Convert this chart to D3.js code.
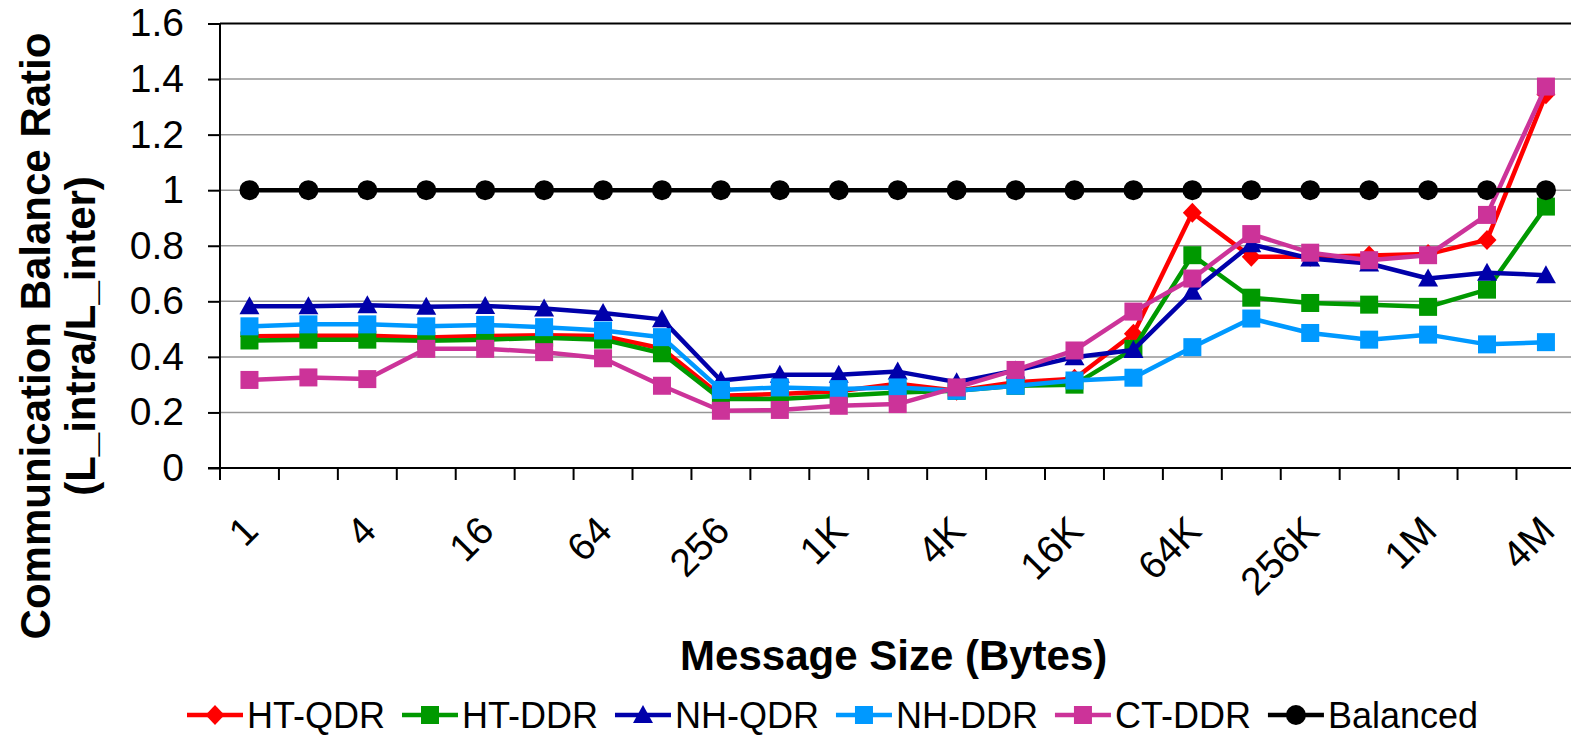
<!DOCTYPE html>
<html lang="en">
    <head>
        <meta charset="utf-8">
        <title>Communication Balance Ratio</title>
        <script src="https://cdn.jsdelivr.net/npm/d3@7/dist/d3.min.js"></script>
    </head>

    <body style="margin: 0px; background: white">
        <script type="text/javascript">

            // message sizes, 1 byte .. 4M
            var sizes = ["1","2","4","8","16","32","64","128","256","512","1K","2K","4K","8K",
                         "16K","32K","64K","128K","256K","512K","1M","2M","4M"];

            var htQdr = [0.474,0.476,0.476,0.470,0.475,0.478,0.475,0.430,0.260,0.266,0.276,0.303,0.278,
                         0.309,0.321,0.483,0.919,0.760,0.760,0.765,0.770,0.821,1.345];
            var htDdr = [0.459,0.462,0.462,0.458,0.462,0.469,0.462,0.413,0.248,0.248,0.260,0.272,0.278,
                         0.296,0.300,0.429,0.766,0.613,0.594,0.588,0.580,0.642,0.941];
            var nhQdr = [0.582,0.582,0.586,0.580,0.583,0.574,0.558,0.535,0.315,0.336,0.336,0.347,0.309,
                         0.351,0.399,0.425,0.634,0.805,0.754,0.736,0.682,0.703,0.694];
            var nhDdr = [0.510,0.517,0.517,0.510,0.515,0.507,0.495,0.471,0.281,0.290,0.284,0.290,0.278,
                         0.296,0.315,0.325,0.435,0.538,0.486,0.462,0.480,0.445,0.453];
            var ctDdr = [0.317,0.326,0.320,0.429,0.429,0.417,0.395,0.296,0.206,0.209,0.224,0.230,0.290,
                         0.353,0.423,0.563,0.682,0.842,0.775,0.748,0.766,0.911,1.373];
            var balanced = [1,1,1,1,1,1,1,1,1,1,1,1,1,1,1,1,1,1,1,1,1,1,1];

            var yTicks = [0, 0.2, 0.4, 0.6, 0.8, 1, 1.2, 1.4, 1.6];
            var xLabelEvery = 2;

            var seriesNames = ["HT-QDR", "HT-DDR", "NH-QDR", "NH-DDR", "CT-DDR", "Balanced"];
            var seriesColours = ["#ff0000", "#009900", "#0000aa", "#0099ff", "#cc3399", "#000000"];
            var seriesMarkers = ["diamond", "square", "triangle", "square", "square", "circle"];
            var seriesValues = [htQdr, htDdr, nhQdr, nhDdr, ctDdr, balanced];

            var width = 1571;
            var height = 736;
            var font = "'Liberation Sans', Arial, sans-serif";

            // plot area (window.top is taken, so no "top" here)
            var plotLeft = 220, plotRight = 1575.4, plotTop = 23.5, plotBottom = 468;

            var svg = d3.select("body")
                .append("svg")
                .attr("width", width)
                .attr("height", height)
                .style("display", "block");

            var x = d3.scaleBand().domain(sizes).range([plotLeft, plotRight]).padding(0);
            var y = d3.scaleLinear().domain([0, 1.6]).range([plotBottom, plotTop]);
            var bw = x.bandwidth();

            // gridlines
            svg.append("g")
                .selectAll("line")
                .data(yTicks.slice(1, -1))
                .enter().append("line")
                .attr("x1", plotLeft).attr("x2", width)
                .attr("y1", function(d){ return y(d); })
                .attr("y2", function(d){ return y(d); })
                .attr("stroke", "#969696")
                .attr("stroke-width", 1.5);

            // top border of plot area
            svg.append("line")
                .attr("x1", plotLeft).attr("x2", width)
                .attr("y1", y(1.6)).attr("y2", y(1.6))
                .attr("stroke", "black").attr("stroke-width", 2);

            // y axis
            var yAxis = svg.append("g")
                .attr("transform", "translate(" + plotLeft + ",0)")
                .call(d3.axisLeft(y).tickValues(yTicks).tickSize(12).tickPadding(24)
                      .tickFormat(d3.format("~g")));
            yAxis.select(".domain").remove();
            yAxis.selectAll(".tick line").attr("stroke", "black").attr("stroke-width", 2);
            yAxis.selectAll("text")
                .attr("font-family", font)
                .style("font-size", "39px")
                .attr("fill", "black");
            svg.append("line")
                .attr("x1", plotLeft).attr("x2", plotLeft)
                .attr("y1", plotTop).attr("y2", plotBottom + 12)
                .attr("stroke", "black").attr("stroke-width", 2);

            // x axis, ticks sit between categories
            svg.append("line")
                .attr("x1", plotLeft - 12).attr("x2", width)
                .attr("y1", plotBottom).attr("y2", plotBottom)
                .attr("stroke", "black").attr("stroke-width", 2);
            svg.append("g")
                .selectAll("line")
                .data(sizes)
                .enter().append("line")
                .attr("x1", function(d){ return x(d); })
                .attr("x2", function(d){ return x(d); })
                .attr("y1", plotBottom).attr("y2", plotBottom + 12)
                .attr("stroke", "black").attr("stroke-width", 2);

            svg.append("g")
                .selectAll("text")
                .data(sizes.filter(function(d, i){ return i % xLabelEvery == 0; }))
                .enter().append("text")
                .attr("transform", function(d){
                    return "translate(" + (x(d) + bw / 2 + 11) + "," + 533 + ") rotate(-45)";
                })
                .attr("text-anchor", "end")
                .attr("font-family", font)
                .style("font-size", "39px")
                .attr("fill", "black")
                .text(function(d){ return d; });

            // axis titles
            svg.append("text")
                .attr("x", (plotLeft + plotRight) / 2 - 4)
                .attr("y", 670)
                .attr("text-anchor", "middle")
                .attr("font-family", font)
                .attr("font-weight", "bold")
                .style("font-size", "42px")
                .text("Message Size (Bytes)");

            svg.append("text")
                .attr("transform", "translate(50,336) rotate(-90)")
                .attr("text-anchor", "middle")
                .attr("font-family", font)
                .attr("font-weight", "bold")
                .style("font-size", "42px")
                .text("Communication Balance Ratio");
            svg.append("text")
                .attr("transform", "translate(95,336) rotate(-90)")
                .attr("text-anchor", "middle")
                .attr("font-family", font)
                .attr("font-weight", "bold")
                .style("font-size", "42px")
                .text("(L_intra/L_inter)");

            function addMarker(g, type, cx, cy, colour){
                if(type == "square"){
                    g.append("rect")
                        .attr("x", cx - 9).attr("y", cy - 9)
                        .attr("width", 18).attr("height", 18)
                        .attr("fill", colour);
                }
                else if(type == "diamond"){
                    g.append("path")
                        .attr("d", "M" + cx + "," + (cy - 10) + "L" + (cx + 9.5) + "," + cy +
                                   "L" + cx + "," + (cy + 10) + "L" + (cx - 9.5) + "," + cy + "Z")
                        .attr("fill", colour);
                }
                else if(type == "triangle"){
                    g.append("path")
                        .attr("d", "M" + cx + "," + (cy - 10) + "L" + (cx + 10) + "," + (cy + 8) +
                                   "L" + (cx - 10) + "," + (cy + 8) + "Z")
                        .attr("fill", colour);
                }
                else{
                    g.append("circle")
                        .attr("cx", cx).attr("cy", cy).attr("r", 10)
                        .attr("fill", colour);
                }
            }

            // series
            var line = d3.line()
                .x(function(d, i){ return x(sizes[i]) + bw / 2; })
                .y(function(d){ return y(d); });

            seriesValues.forEach(function(vals, s){
                var g = svg.append("g");
                g.append("path")
                    .attr("d", line(vals))
                    .attr("fill", "none")
                    .attr("stroke", seriesColours[s])
                    .attr("stroke-width", 4.5)
                    .attr("stroke-linejoin", "round");
                vals.forEach(function(v, i){
                    addMarker(g, seriesMarkers[s], x(sizes[i]) + bw / 2, y(v), seriesColours[s]);
                });
            });

            // legend
            var legend = svg.append("g");
            var lx = 187, ly = 715;
            seriesNames.forEach(function(name, s){
                legend.append("line")
                    .attr("x1", lx).attr("x2", lx + 56)
                    .attr("y1", ly).attr("y2", ly)
                    .attr("stroke", seriesColours[s])
                    .attr("stroke-width", 4.5);
                addMarker(legend, seriesMarkers[s], lx + 28, ly, seriesColours[s]);
                var t = legend.append("text")
                    .attr("x", lx + 60)
                    .attr("y", ly + 13)
                    .attr("font-family", font)
                    .style("font-size", "36px")
                    .attr("fill", "black")
                    .text(name);
                lx = lx + 60 + t.node().getComputedTextLength() + 17;
            });
        </script>
    </body>
</html>
